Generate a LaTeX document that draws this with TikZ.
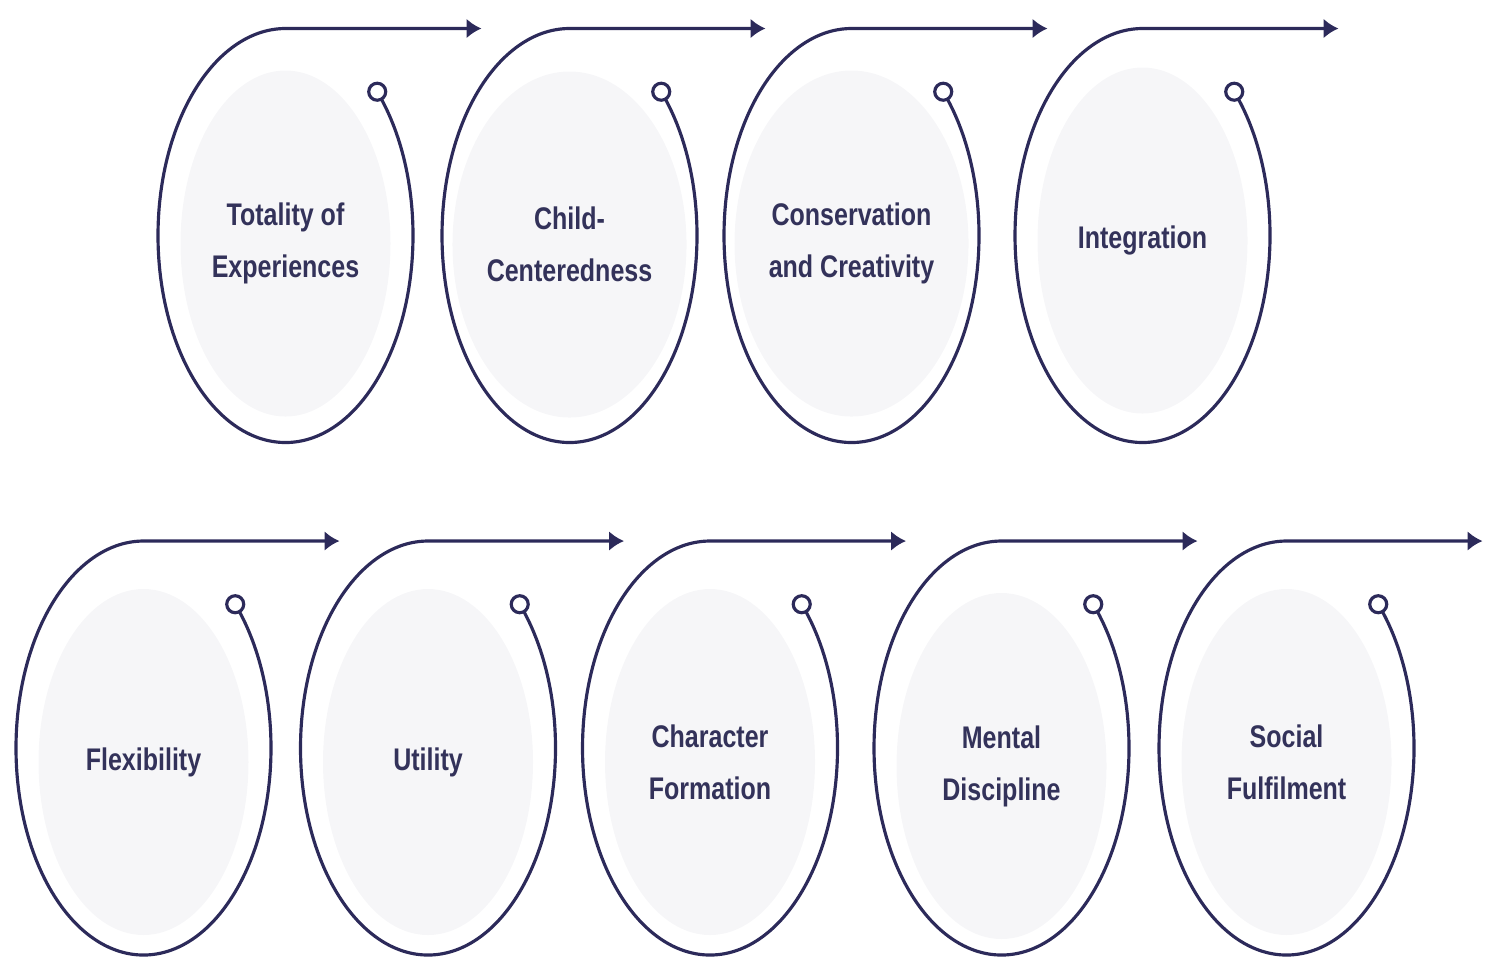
\documentclass[tikz,border=0pt]{standalone}
\usepackage{fontspec}
\newfontfamily\labelfont{Liberation Sans}[FakeStretch=0.8]
\usetikzlibrary{positioning}
\usetikzlibrary{calc}
\usetikzlibrary{arrows.meta}
\usetikzlibrary{shapes.geometric}
\usetikzlibrary{backgrounds}
\definecolor{navy}{HTML}{2C2A5A}
\definecolor{inknavy}{HTML}{33325A}
\definecolor{pale}{HTML}{F6F6F8}

\begin{document}
\begin{tikzpicture}
    [disc/.style={ellipse, fill=pale, minimum width=2.1cm, minimum height=3.46cm, inner sep=0pt,
        align=center, text=inknavy, font={\labelfont\bfseries\fontsize{8.9}{14.8}\selectfont}},
    dot/.style={circle, draw=navy, fill=white, line width=0.9pt, minimum size=0.17cm, inner sep=0pt},
    ring/.style={draw=navy, line width=0.9pt, -{Latex[length=0.15cm, width=0.2cm]}}]
    \useasboundingbox (0,0) rectangle (14.85,-9.6);
    %\draw[step=1cm,gray,very thin] (0,0) grid (14.85,-9.6);
    \foreach \n/\cx/\cy/\dy/\txt in {
        1/2.855/-2.355/-0.08/{Totality of\\Experiences},
        2/5.695/-2.355/-0.09/{Child-\\Centeredness},
        3/8.515/-2.355/-0.08/{Conservation\\and Creativity},
        4/11.425/-2.355/-0.05/{Integration},
        5/1.435/-7.48/-0.14/{Flexibility},
        6/4.28/-7.48/-0.14/{Utility},
        7/7.10/-7.48/-0.14/{Character\\Formation},
        8/10.015/-7.48/-0.18/{Mental\\Discipline},
        9/12.865/-7.48/-0.14/{Social\\Fulfilment}}{
        \coordinate (c\n) at (\cx,\cy);
        \node[disc] (e\n) at ($(c\n)+(0,\dy)$) {\txt};
        \node[dot]  (d\n) at ($(c\n)+(44:1.275 and 2.07)$) {};
        \coordinate (t\n) at ($(c\n)+(1.96,2.07)$);
        \begin{scope}[on background layer]
            \draw[ring] (d\n.center) arc[start angle=44, end angle=-270, x radius=1.275, y radius=2.07] -- (t\n);
        \end{scope}
    }
\end{tikzpicture}
\end{document}
